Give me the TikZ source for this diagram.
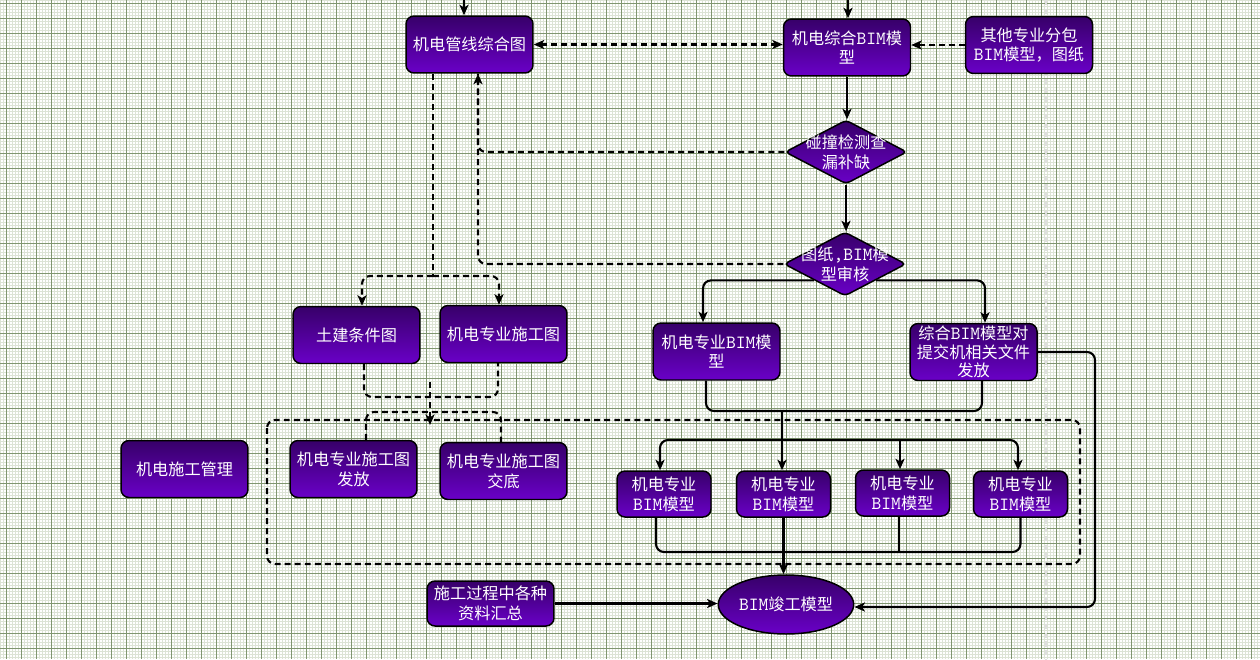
\documentclass[tikz,border=0pt]{standalone}
\usepackage{fontspec}
\setmainfont{Noto Sans CJK SC}
\usetikzlibrary{shapes.geometric,arrows.meta}

\definecolor{boxtop}{RGB}{55,0,105}
\definecolor{boxbot}{RGB}{106,0,200}
\definecolor{gridminor}{RGB}{220,227,213}
\definecolor{gridmajor}{RGB}{128,150,112}
\newcommand\bim{{\fontsize{10.6pt}{\baselineskip}\selectfont\ttfamily BIM}}
\newcommand\boxfont{\fontsize{9.2pt}{11.3pt}\selectfont}

\tikzset{
  box/.style={draw=black, line width=0.85pt, rounded corners=0.16cm,
    top color=boxtop, bottom color=boxbot, text=white, align=center,
    minimum width=2.54cm, minimum height=1.14cm, inner sep=0.5pt, font=\boxfont},
  smallbox/.style={box, minimum width=1.88cm, minimum height=0.92cm},
  dia/.style={box, diamond, rounded corners=0.08cm, minimum width=2.44cm,
    minimum height=1.28cm, inner sep=0pt},
  oval/.style={box, ellipse, minimum width=2.56cm, minimum height=1.18cm},
  diatext/.style={text=white, align=center, font=\boxfont, inner sep=0pt},
  tip/.tip={Stealth[length=6pt,width=5.2pt,inset=1.6pt]},
  line/.style={line width=1.2pt, rounded corners=0.16cm},
  conn/.style={line, -tip},
  dline/.style={line, dash pattern=on 3.4pt off 2.3pt},
  dconn/.style={conn, dash pattern=on 3.4pt off 2.3pt},
}

\begin{document}
\begin{tikzpicture}[x=0.02cm, y=-0.02cm]
  \useasboundingbox (0,0) rectangle (1260,659);

  % --- grid paper
  \fill[white] (0,0) rectangle (1260,659);
  \foreach \i in {0,3,...,1260}
    \draw[gridminor, line width=0.3pt] (\i,0) -- (\i,659);
  \foreach \j in {0,3,...,657}
    \draw[gridminor, line width=0.3pt] (0,\j) -- (1260,\j);
  \foreach \i in {6,21,...,1260}
    \draw[gridmajor, line width=0.5pt] (\i,0) -- (\i,659);
  \foreach \j in {3,18,...,659}
    \draw[gridmajor, line width=0.5pt] (0,\j) -- (1260,\j);
  \draw[white!75!gray, dash pattern=on 3pt off 2pt, line width=0.6pt] (1046,0) -- (1046,659);

  % --- nodes
  \node[box] (pipe) at (469.5,44.5) {机电管线综合图};
  \node[box] (mep) at (847,47.5) {机电综合\bim 模\\型};
  \node[box] (other) at (1029,45) {其他专业分包\\\bim 模型，图纸};
  \node[dia] (clash) at (846,152) {};
  \node[diatext] (clashtxt) at (clash) {碰撞检测查\\漏补缺};
  \node[dia] (audit) at (845,264) {};
  \node[diatext] (audittxt) at (audit)
    {图纸{\fontsize{10.6pt}{\baselineskip}\selectfont\ttfamily ,BIM}模\\型审核};
  \node[box] (civil) at (356.5,335) {土建条件图};
  \node[box] (cdraw) at (503.5,334) {机电专业施工图};
  \node[box] (mepm) at (716.5,351.5) {机电专业\bim 模\\型};
  \node[box, font=\fontsize{9.2pt}{10.4pt}\selectfont] (issue) at (973.5,352)
    {综合\bim 模型对\\提交机相关文件\\发放};
  \node[box] (mgmt) at (184.5,469) {机电施工管理};
  \node[box] (release) at (353.5,469) {机电专业施工图\\发放};
  \node[box] (brief) at (503.5,471) {机电专业施工图\\交底};
  \node[smallbox] (m1) at (664,494) {机电专业\\\bim 模型};
  \node[smallbox] (m2) at (783.5,494) {机电专业\\\bim 模型};
  \node[smallbox] (m3) at (902.5,493) {机电专业\\\bim 模型};
  \node[smallbox] (m4) at (1020.5,494) {机电专业\\\bim 模型};
  \node[oval] (final) at (786,604.5) {\bim 竣工模型};
  \node[box, minimum height=0.9cm] (docs) at (490.5,603.5) {施工过程中各种\\资料汇总};

  % --- dashed frame round the site stage
  \draw[dline] (267,420) rectangle (1080,564);

  % --- top part
  \coordinate (in1) at (464,0);
  \coordinate (in2) at (848,0);
  \draw[conn] (in1) -- (in1 |- pipe.north);
  \draw[conn] (in2) -- (in2 |- mep.north);
  \draw[dconn, tip-tip] (pipe.east) -- (pipe.east -| mep.west);
  \draw[dconn] (other.west) -- (other.west -| mep.east);
  \draw[conn] (mep.south) -- (mep.south |- clash.north);
  \draw[conn] (clash.south) -- (clash.south |- audit.north);

  % --- feedback to the pipe drawing
  \coordinate (fb) at ([xshift=0.17cm]pipe.south);
  \draw[dconn] (clash.west) -| (fb);
  \draw[dline] (audit.west) -| (fb);

  % --- pipe drawing to the two drawings
  \coordinate (sp) at (433,276);
  \draw[dline] (pipe.south -| sp) -- (sp);
  \draw[dconn] (sp) -| ([xshift=0.11cm]civil.north);
  \draw[dconn] (sp) -| ([xshift=-0.09cm]cdraw.north);
  \coordinate (mg) at (430,397);
  \draw[dline] ([xshift=0.15cm]civil.south) |- (mg) -| ([xshift=-0.11cm]cdraw.south);
  \draw[dconn] ([yshift=0.3cm]mg) -- ([yshift=-0.56cm]mg);
  \coordinate (sp2) at (430,412);
  \draw[dline] ([xshift=0.25cm]release.north) |- (sp2) -| ([xshift=-0.05cm]brief.north);

  % --- audit to models and issue
  \draw[conn] (audit.south west) -| ([xshift=-0.27cm]mepm.north);
  \draw[conn] (audit.south east) -| ([xshift=0.23cm]issue.north);
  \coordinate (mg2) at (782,411);
  \draw[line] ([xshift=-0.21cm]mepm.south) |- (mg2) -| ([xshift=0.17cm]issue.south);
  \draw[conn] (mg2) -- (mg2 |- m2.north);
  \coordinate (ds) at (900,440);
  \draw[conn] (ds) -| ([xshift=-0.08cm]m1.north);
  \draw[conn] (ds) -| ([xshift=-0.05cm]m4.north);
  \draw[conn] (ds) -- (ds |- m3.north);

  % --- models to the as-built model
  \coordinate (mg3) at (899,552);
  \draw[line] ([xshift=-0.16cm]m1.south) |- (mg3) -| (m4.south);
  \draw[line] (m3.south -| mg3) -- (mg3);
  \draw[conn] (m2.south) -- (m2.south |- final.north);
  \draw[conn] (docs.east) -- (docs.east -| final.west);
  \coordinate (rt) at (1095,607);
  \draw[conn] (issue.east) -| (rt) -- (rt -| final.east);
\end{tikzpicture}
\end{document}
